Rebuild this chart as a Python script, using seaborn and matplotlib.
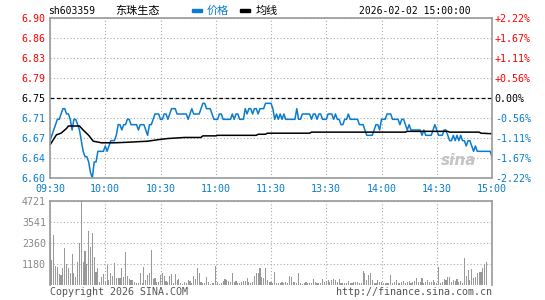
import numpy as np
import pandas as pd
import seaborn as sns
import matplotlib
matplotlib.use('Agg')
import matplotlib.pyplot as plt
from matplotlib.patches import Rectangle

# 东珠生态 sh603359 intraday, 2026-02-02
prev_close = 6.75

price = [
    6.67, 6.68, 6.69, 6.70, 6.71, 6.71, 6.72, 6.73, 6.73, 6.72,
    6.72, 6.71, 6.69, 6.71, 6.71, 6.70, 6.69, 6.67, 6.65, 6.64,
    6.64, 6.63, 6.61, 6.60, 6.63, 6.63, 6.65, 6.65, 6.65, 6.65,
    6.66, 6.65, 6.66, 6.67, 6.67, 6.67, 6.68, 6.70, 6.70, 6.69,
    6.70, 6.70, 6.71, 6.71, 6.70, 6.70, 6.70, 6.70, 6.69, 6.70,
    6.70, 6.70, 6.69, 6.68, 6.70, 6.70, 6.71, 6.72, 6.72, 6.72,
    6.71, 6.71, 6.72, 6.72, 6.71, 6.72, 6.73, 6.73, 6.73, 6.72,
    6.72, 6.72, 6.72, 6.72, 6.72, 6.71, 6.72, 6.73, 6.72, 6.72,
    6.72, 6.72, 6.73, 6.74, 6.74, 6.73, 6.73, 6.73, 6.72, 6.71,
    6.71, 6.71, 6.72, 6.72, 6.71, 6.71, 6.71, 6.71, 6.71, 6.72,
    6.71, 6.72, 6.72, 6.71, 6.71, 6.71, 6.73, 6.72, 6.73, 6.73,
    6.72, 6.73, 6.73, 6.72, 6.73, 6.73, 6.73, 6.74, 6.74, 6.74,
    6.74, 6.73, 6.71, 6.72, 6.71, 6.72, 6.71, 6.72, 6.71, 6.71,
    6.71, 6.71, 6.71, 6.71, 6.73, 6.71, 6.71, 6.72, 6.72, 6.72,
    6.72, 6.72, 6.71, 6.72, 6.72, 6.71, 6.72, 6.72, 6.71, 6.71,
    6.71, 6.72, 6.72, 6.72, 6.71, 6.72, 6.71, 6.71, 6.70, 6.70,
    6.71, 6.71, 6.72, 6.71, 6.71, 6.71, 6.71, 6.71, 6.70, 6.70,
    6.70, 6.69, 6.68, 6.68, 6.68, 6.68, 6.69, 6.70, 6.70, 6.69,
    6.71, 6.71, 6.71, 6.72, 6.72, 6.72, 6.71, 6.71, 6.71, 6.71,
    6.70, 6.71, 6.71, 6.70, 6.69, 6.70, 6.69, 6.69, 6.69, 6.69,
    6.69, 6.69, 6.68, 6.69, 6.68, 6.68, 6.68, 6.68, 6.69, 6.70,
    6.69, 6.68, 6.68, 6.68, 6.69, 6.69, 6.68, 6.67, 6.67, 6.68,
    6.67, 6.68, 6.67, 6.68, 6.67, 6.67, 6.66, 6.67, 6.67, 6.66,
    6.65, 6.66, 6.65, 6.65, 6.65, 6.65, 6.65, 6.65, 6.65, 6.65, 6.64,
]

volume = [
    2660, 1400, 2810, 1080, 1030, 640, 560, 930, 2060, 1180,
    980, 660, 1720, 700, 430, 1300, 2340, 4721, 1300, 1930,
    1190, 3030, 2110, 2900, 1550, 750, 970, 170, 470, 640,
    250, 1120, 290, 650, 500, 1210, 390, 380, 420, 960,
    470, 1880, 520, 360, 290, 300, 170, 100, 120, 680,
    100, 1010, 280, 590, 690, 1980, 350, 380, 190, 170,
    550, 650, 510, 210, 150, 480, 620, 140, 620, 280,
    310, 120, 80, 170, 140, 300, 250, 100, 480, 320,
    940, 680, 160, 140, 130, 430, 190, 80, 140, 120,
    1060, 190, 80, 100, 250, 330, 280, 220, 150, 650,
    170, 200, 140, 130, 180, 250, 250, 420, 180, 110,
    150, 480, 660, 650, 950, 470, 370, 970, 280, 190,
    150, 100, 710, 110, 100, 140, 190, 120, 150, 100,
    520, 470, 150, 150, 100, 660, 130, 60, 100, 150,
    90, 100, 90, 340, 150, 120, 100, 90, 340, 190,
    220, 280, 150, 280, 320, 280, 150, 340, 100, 100,
    100, 100, 200, 100, 100, 190, 190, 190, 100, 100,
    790, 660, 280, 560, 660, 280, 100, 100, 280, 150,
    190, 100, 100, 100, 100, 560, 100, 150, 280, 100,
    100, 150, 220, 100, 150, 220, 100, 150, 220, 370,
    150, 150, 370, 100, 190, 280, 150, 190, 280, 150,
    100, 1010, 100, 150, 340, 280, 470, 470, 150, 280,
    220, 340, 150, 220, 120, 1540, 520, 840, 280, 900,
    410, 470, 660, 710, 710, 970, 1160, 1310, 0, 0, 0,
]

# average price line read at its turning points
avg_minute = [0, 3.5, 6, 9, 10, 16, 18, 21, 23.5, 28, 35, 42, 53, 59, 64, 73,
              82, 83, 90, 91, 112, 113, 117, 118, 141, 142, 193, 194, 216, 217,
              233, 234, 240]
avg_price = [6.662, 6.681, 6.684, 6.693, 6.6975, 6.6975, 6.69, 6.68, 6.669, 6.666,
             6.666, 6.667, 6.669, 6.672, 6.674, 6.676, 6.676, 6.679, 6.679, 6.680,
             6.680, 6.682, 6.682, 6.684, 6.684, 6.686, 6.686, 6.6875, 6.6875, 6.686,
             6.686, 6.684, 6.683]

time_labels = ['09:30', '10:00', '10:30', '11:00', '11:30', '13:30', '14:00', '14:30', '15:00']
price_labels = ['6.60', '6.64', '6.67', '6.71', '6.75', '6.79', '6.83', '6.86', '6.90']
pct_labels = ['-2.22%', '-1.67%', '-1.11%', '-0.56%', '0.00%', '+0.56%', '+1.11%', '+1.67%', '+2.22%']
vol_ticks = [1180, 2360, 3541, 4721]

BLUE = '#0a7ccf'
RED = '#ff0000'
GREY = '#999999'

sns.set_style('white')
plt.rcParams['font.family'] = ['DejaVu Sans Mono', 'Noto Sans CJK SC']

W, H = 545, 300
fig = plt.figure(figsize=(W / 100, H / 100), dpi=100)


def fx(px):
    return px / W


def fy(py):
    return 1 - py / H


ax = fig.add_axes([fx(50), fy(178), fx(492) - fx(50), fy(18) - fy(178)])
axv = fig.add_axes([fx(50), fy(285), fx(492) - fx(50), fy(201) - fy(285)])

df = pd.DataFrame({'minute': np.arange(len(price)), 'price': price, 'volume': volume})

# price panel
sns.lineplot(data=df, x='minute', y='price', ax=ax, color=BLUE, lw=1.1)
sns.lineplot(x=avg_minute, y=avg_price, ax=ax, color='black', lw=1.1)
ax.set_xlim(0, 240)
ax.set_ylim(prev_close - 0.15, prev_close + 0.15)
yt = np.linspace(prev_close - 0.15, prev_close + 0.15, 9)
ax.set_yticks(yt, price_labels)
ax.set_xticks(range(0, 241, 30), time_labels)
ax.grid(True, ls=(0, (1, 2)), color='#aaaaaa', lw=0.8)
ax.axhline(prev_close, color='black', ls=(0, (3, 2)), lw=0.9)
ax.set_xlabel('')
ax.set_ylabel('')
ax.tick_params(length=0, labelsize=7.2, pad=3)
ax.tick_params(axis='x', pad=4, labelcolor=BLUE)
for lbl, v in zip(ax.get_yticklabels(), yt):
    lbl.set_color(RED if v > prev_close + 1e-9 else ('black' if abs(v - prev_close) < 1e-9 else BLUE))
for s in ax.spines.values():
    s.set_color(GREY)
    s.set_linewidth(1.2)

axr = ax.twinx()
axr.set_ylim(ax.get_ylim())
axr.set_yticks(yt, pct_labels)
axr.tick_params(length=0, labelsize=7.2, pad=2)
for lbl, v in zip(axr.get_yticklabels(), yt):
    lbl.set_color(RED if v > prev_close + 1e-9 else ('black' if abs(v - prev_close) < 1e-9 else BLUE))
for s in axr.spines.values():
    s.set_visible(False)

# sina watermark
ax.text(0.965, 0.06, 'sina', transform=ax.transAxes, ha='right', va='bottom',
        fontsize=11, fontweight='bold', style='italic', color='#c4c4c4',
        family='DejaVu Sans')

# volume panel
axv.bar(df['minute'], df['volume'], width=0.6, color=GREY, linewidth=0)
axv.set_xlim(0, 240)
axv.set_ylim(0, 4721)
axv.set_yticks(vol_ticks, [str(v) for v in vol_ticks])
axv.set_xticks(range(0, 241, 30), [''] * 9)
axv.grid(True, ls=(0, (1, 2)), color='#aaaaaa', lw=0.8)
axv.tick_params(length=0, labelsize=7.2, pad=3, labelcolor='#888888')
for s in axv.spines.values():
    s.set_color(GREY)
    s.set_linewidth(1.2)
axv.spines['bottom'].set_visible(False)

# header
fig.text(fx(48), fy(11), 'sh603359', fontsize=7, va='center', ha='left', color='black')
fig.text(fx(115), fy(11), '东珠生态', fontsize=8, va='center', ha='left', color='black',
         family=['Noto Sans CJK SC', 'DejaVu Sans'])
fig.patches.append(Rectangle((fx(192), fy(12)), fx(10), 3 / H, transform=fig.transFigure,
                             color=BLUE))
fig.text(fx(207), fy(11), '价格', fontsize=8, va='center', ha='left', color=BLUE,
         family=['Noto Sans CJK SC', 'DejaVu Sans'])
fig.patches.append(Rectangle((fx(240), fy(12)), fx(10), 3 / H, transform=fig.transFigure,
                             color='black'))
fig.text(fx(256), fy(11), '均线', fontsize=8, va='center', ha='left', color='black',
         family=['Noto Sans CJK SC', 'DejaVu Sans'])
fig.text(fx(471), fy(11), '2026-02-02 15:00:00', fontsize=7, va='center', ha='right',
         color='black')

# footer
fig.text(fx(50), fy(292), 'Copyright 2026 SINA.COM', fontsize=7.2, va='center', ha='left',
         color='#555555')
fig.text(fx(492), fy(292), 'http://finance.sina.com.cn', fontsize=7.2, va='center',
         ha='right', color='#555555')

fig.savefig('out.png', dpi=100, facecolor='white')
